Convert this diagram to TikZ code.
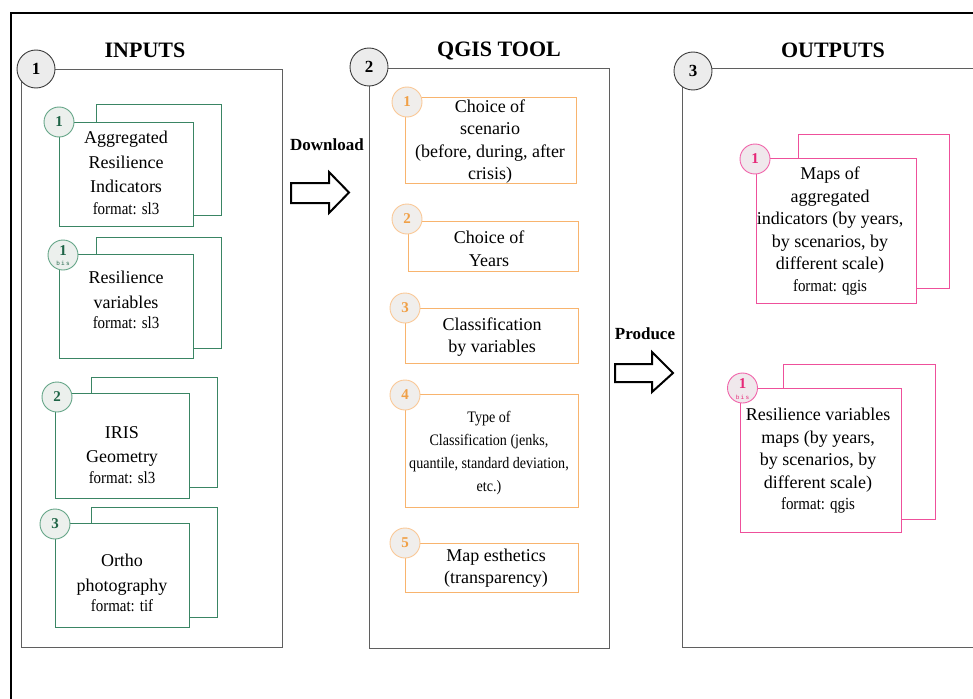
\documentclass[tikz,border=0pt]{standalone}
\usepackage{fontspec}
\setmainfont{Liberation Serif}
\newfontfamily\condfont{Liberation Serif}[FakeStretch=0.88]
\newfontfamily\bisfont{Liberation Mono}[LetterSpace=20]
\newcommand\fmtfont{\condfont\fontsize{17}{20}\selectfont}
\definecolor{greenline}{RGB}{58,133,100}
\definecolor{greennum}{RGB}{30,100,70}
\definecolor{greencirc}{RGB}{100,165,135}
\definecolor{greenfill}{RGB}{236,240,237}
\definecolor{orangeline}{RGB}{248,180,110}
\definecolor{orangenum}{RGB}{240,160,70}
\definecolor{orangecirc}{RGB}{250,200,150}
\definecolor{orangefill}{RGB}{240,238,236}
\definecolor{pinkline}{RGB}{238,80,155}
\definecolor{pinknum}{RGB}{230,40,120}
\definecolor{pinkcirc}{RGB}{240,100,170}
\definecolor{pinkfill}{RGB}{240,232,236}
\definecolor{panelgray}{RGB}{95,95,95}
\definecolor{bigcirc}{RGB}{60,60,60}
\definecolor{bigfill}{RGB}{236,236,236}
\begin{document}
\begin{tikzpicture}[x=1pt,y=-1pt,
  panel/.style={draw=panelgray,line width=1pt},
  bignum/.style={circle,draw=bigcirc,fill=bigfill,line width=0.9pt,minimum size=38pt,inner sep=0pt,font=\fontsize{17}{17}\selectfont\bfseries},
  title/.style={font=\fontsize{22}{22}\selectfont\bfseries},
  greenbox/.style={draw=greenline,line width=1pt,fill=white,inner sep=0pt},
  greenback/.style={draw=greenline,line width=1pt,inner sep=0pt},
  greennumc/.style={circle,draw=greencirc,fill=greenfill,line width=0.9pt,minimum size=30pt,inner sep=0pt,text=greennum,font=\fontsize{15}{15}\selectfont\bfseries},
  orangebox/.style={draw=orangeline,line width=1pt,fill=white,inner sep=0pt},
  orangenumc/.style={circle,draw=orangecirc,fill=orangefill,line width=0.9pt,minimum size=30pt,inner sep=0pt,text=orangenum,font=\fontsize{15}{15}\selectfont\bfseries},
  pinkbox/.style={draw=pinkline,line width=1pt,fill=white,inner sep=0pt},
  pinkback/.style={draw=pinkline,line width=1pt,inner sep=0pt},
  pinknumc/.style={circle,draw=pinkcirc,fill=pinkfill,line width=0.9pt,minimum size=30pt,inner sep=0pt,text=pinknum,font=\fontsize{15}{15}\selectfont\bfseries},
  txt/.style={align=center,inner sep=0pt,font=\fontsize{18}{24.5}\selectfont},
  txtb/.style={align=center,inner sep=0pt,font=\fontsize{18}{22.5}\selectfont},
  arrowlbl/.style={font=\fontsize{17}{17}\selectfont\bfseries},
  blockarrow/.style={draw=black,fill=white,line width=2pt,line join=miter}
]
\useasboundingbox (0,0) rectangle (973,698);
\clip (0,0) rectangle (973,698);
% outer frame
\draw[line width=1.5pt] (11,720) -- (11,13) -- (990,13);

% ===== column 1: INPUTS =====
\draw[panel] (21,70) rectangle (282,647);
\node[bignum] (c1) at (36,69) {1};
\node[title] (t1) at (145,50) {INPUTS};

% input 1
\draw[greenback] (96,105) rectangle (221,215);
\node[greenbox,minimum width=134pt,minimum height=104pt] (in1) at (126,174) {};
\node[greennumc] (n1) at (59,122) {1};
\node[txt] (x1) at (126,173) {Aggregated\\Resilience\\Indicators\\[-3pt]{\fmtfont format: sl3}};

% input 1bis
\draw[greenback] (96,237) rectangle (221,348);
\node[greenbox,minimum width=134pt,minimum height=104pt] (in1b) at (126,306) {};
\node[greennumc] (n1b) at (63,255) {};
\node[text=greennum,font=\fontsize{15}{15}\selectfont\bfseries] (n1bnum) at (63,251) {1};
\node[text=greennum,font=\bisfont\fontsize{6}{6}\selectfont] (n1bbis) at (63,263) {bis};
\node[txt] (x1b) at (126,300) {Resilience\\variables\\[-4pt]{\fmtfont format: sl3}};

% input 2
\draw[greenback] (91,377) rectangle (217,487);
\node[greenbox,minimum width=134pt,minimum height=105pt] (in2) at (122,445.5) {};
\node[greennumc] (n2) at (57,397) {2};
\node[txt] (x2) at (122,455) {IRIS\\Geometry\\[-4pt]{\fmtfont format: sl3}};

% input 3
\draw[greenback] (91,507) rectangle (217,617);
\node[greenbox,minimum width=134pt,minimum height=104pt] (in3) at (122,575) {};
\node[greennumc] (n3) at (55,524) {3};
\node[txt] (x3) at (122,583) {Ortho\\photography\\[-4pt]{\fmtfont format: tif}};

% ===== arrow Download =====
\node[arrowlbl] (dl) at (327,145) {Download};
\draw[blockarrow] (291,183) -- (329,183) -- (329,172) -- (349,192.5) -- (329,213) -- (329,203) -- (291,203) -- cycle;

% ===== column 2: QGIS TOOL =====
\draw[panel] (369,69) rectangle (609,648);
\node[bignum] (c2) at (369,67) {2};
\node[title] (t2) at (499,51) {QGIS TOOL};

\node[orangebox,minimum width=171pt,minimum height=85pt] (q1) at (490.5,140.5) {};
\node[orangenumc] (o1) at (407,102) {1};
\node[txtb] (y1) at (490,141.5) {Choice of\\scenario\\(before, during, after\\crisis)};

\node[orangebox,minimum width=170pt,minimum height=50pt] (q2) at (493,246) {};
\node[orangenumc] (o2) at (407,219) {2};
\node[txtb] (y2) at (489,248.5) {Choice of\\Years};

\node[orangebox,minimum width=173pt,minimum height=55pt] (q3) at (491.5,335.5) {};
\node[orangenumc] (o3) at (405,308) {3};
\node[txtb] (y3) at (492,337) {Classification\\by variables};

\node[orangebox,minimum width=173pt,minimum height=113pt] (q4) at (491.5,450.5) {};
\node[orangenumc] (o4) at (405,395) {4};
\node[align=center,inner sep=0pt,font=\condfont\fontsize{16}{23}\selectfont] (y4) at (489,453) {Type of\\Classification (jenks,\\quantile, standard deviation,\\etc.)};

\node[orangebox,minimum width=173pt,minimum height=49pt] (q5) at (491.5,567.5) {};
\node[orangenumc] (o5) at (405,543) {5};
\node[txtb] (y5) at (496,568) {Map esthetics\\(transparency)};

% ===== arrow Produce =====
\node[arrowlbl] (pr) at (645,334) {Produce};
\draw[blockarrow] (615,364) -- (652,364) -- (652,352) -- (673,373) -- (652,392) -- (652,382) -- (615,382) -- cycle;

% ===== column 3: OUTPUTS =====
\draw[panel] (682,69) rectangle (1000,647);
\node[bignum] (c3) at (693,71) {3};
\node[title] (t3) at (833,50) {OUTPUTS};

\draw[pinkback] (798,134) rectangle (949,288);
\node[pinkbox,minimum width=160pt,minimum height=145pt] (p1) at (836,230.5) {};
\node[pinknumc] (m1) at (755,159) {1};
\node[txtb] (z1) at (830,231) {Maps of\\aggregated\\indicators (by years,\\by scenarios, by\\different scale)\\[-1pt]{\fmtfont format: qgis}};

\draw[pinkback] (783,364) rectangle (935,519);
\node[pinkbox,minimum width=161pt,minimum height=144pt] (p1b) at (820.5,460) {};
\node[pinknumc] (m1b) at (742.5,388) {};
\node[text=pinknum,font=\fontsize{15}{15}\selectfont\bfseries] (m1bnum) at (742.5,384) {1};
\node[text=pinknum,font=\bisfont\fontsize{6}{6}\selectfont] (m1bbis) at (742.5,397) {bis};
\node[txtb] (z1b) at (818,461) {Resilience variables\\maps (by years,\\by scenarios, by\\different scale)\\[-1pt]{\fmtfont format: qgis}};
\end{tikzpicture}
\end{document}
